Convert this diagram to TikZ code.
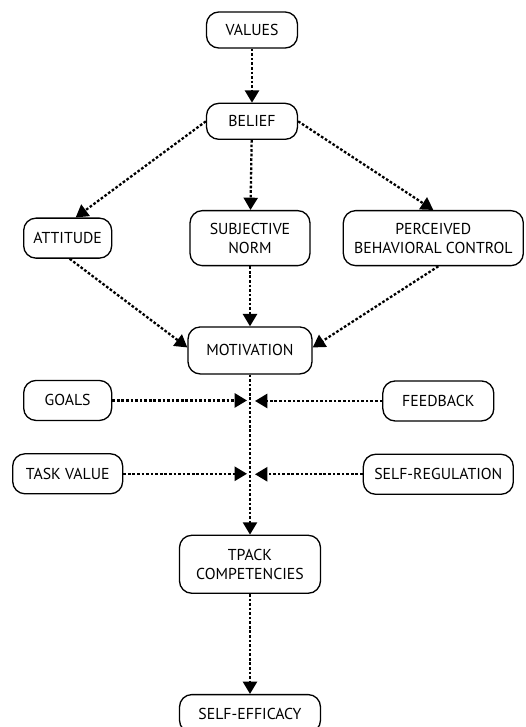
\documentclass[tikz,border=0pt]{standalone}
\usepackage{fontspec}
\setmainfont{PT Sans}
\usetikzlibrary{arrows.meta,positioning}
\tikzset{
  box/.style={
    rectangle,
    rounded corners=7pt,
    draw=black,
    line width=0.75pt,
    fill=white,
    align=center,
    inner xsep=3pt,
    font=\fontsize{9}{11}\selectfont
  },
  link/.style={line width=1.3pt, dash pattern=on 1.5pt off 1.1pt},
  arrow/.style={link, -{Triangle[length=7pt,width=8pt]}}
}

\begin{document}
\begin{tikzpicture}
    \node[box, minimum width=1.82cm, minimum height=0.72cm] (values) {VALUES};
    \useasboundingbox ([xshift=-5.04cm,yshift=0.6cm]values.center) rectangle ([xshift=5.46cm,yshift=-13.94cm]values.center);
    \node[box, minimum width=1.82cm, minimum height=0.72cm, below=1.08cm of values] (belief) {BELIEF};

    \node[box, minimum width=2.4cm, minimum height=1.1cm, below=1.4cm of belief, xshift=-0.04cm] (subjnorm) {SUBJECTIVE\\NORM};
    \node[box, minimum width=1.76cm, minimum height=0.8cm, left=1.54cm of subjnorm] (attitude) {ATTITUDE};
    \node[box, minimum width=3.6cm, minimum height=1.1cm, right=0.64cm of subjnorm] (control) {PERCEIVED\\BEHAVIORAL CONTROL};

    \node[box, minimum width=2.48cm, minimum height=0.94cm, below=1.2cm of subjnorm] (motivation) {MOTIVATION};

    \node[box, minimum width=1.76cm, minimum height=0.8cm, below=2.42cm of attitude] (goals) {GOALS};
    \node[box, minimum width=2.2cm, minimum height=0.8cm, below=0.64cm of goals] (taskvalue) {TASK VALUE};
    \node[box, minimum width=2.22cm, minimum height=0.8cm, below=2.28cm of control, xshift=0.1cm] (feedback) {FEEDBACK};
    \node[box, minimum width=3.0cm, minimum height=0.8cm, below=0.64cm of feedback] (selfreg) {SELF-REGULATION};

    \node[box, minimum width=2.82cm, minimum height=1.16cm, below=3.2cm of motivation] (tpack) {TPACK\\COMPETENCIES};
    \node[box, minimum width=2.82cm, minimum height=0.76cm, below=2.0cm of tpack] (selfeff) {SELF-EFFICACY};

    % arrow ends beside the main line
    \coordinate (goalsend) at ([xshift=-0.06cm]goals -| motivation.south);
    \coordinate (feedend) at ([xshift=0.1cm]feedback -| motivation.south);
    \coordinate (taskend) at ([xshift=-0.06cm]taskvalue -| motivation.south);
    \coordinate (regend) at ([xshift=0.1cm]selfreg -| motivation.south);

    \draw[arrow] (values) -- (belief);
    \draw[arrow] (belief.west) -- ([xshift=0.16cm]attitude.north);
    \draw[arrow] (belief) -- (subjnorm);
    \draw[arrow] (belief.east) -- (control.north);
    \draw[arrow] ([xshift=0.04cm]attitude.south) -- ([yshift=0.06cm]motivation.west);
    \draw[arrow] (subjnorm) -- (motivation);
    \draw[arrow] ([xshift=0.1cm]control.south) -- ([yshift=0.06cm]motivation.east);
    \draw[arrow] (goals) -- (goalsend);
    \draw[arrow] (feedback) -- (feedend);
    \draw[arrow] (taskvalue) -- (taskend);
    \draw[arrow] (selfreg) -- (regend);
    \draw[arrow] (motivation.south) -- (motivation.south |- tpack.north);
    \draw[arrow] (tpack) -- (selfeff);
  \end{tikzpicture}
\end{document}
